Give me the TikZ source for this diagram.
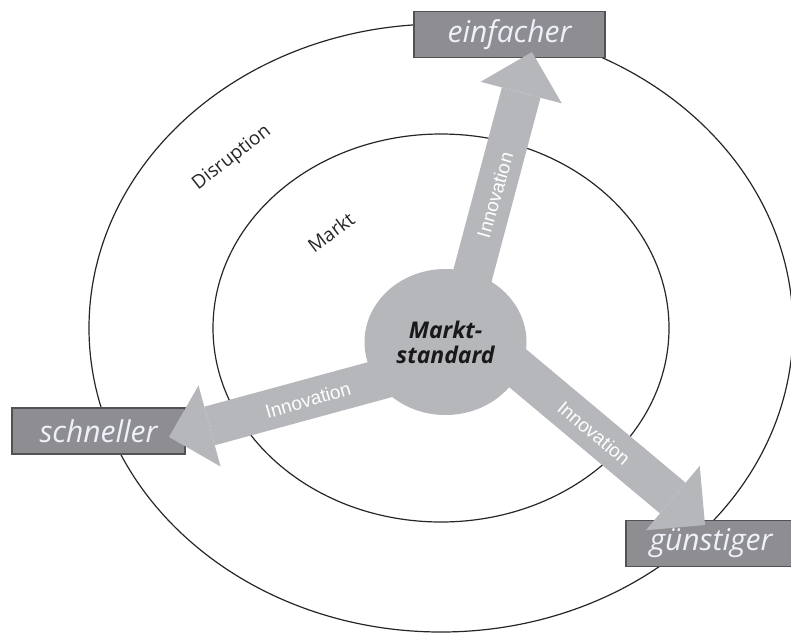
\documentclass[tikz,border=0pt]{standalone}
\usepackage{fontspec}
\setmainfont{Open Sans}
\newfontfamily\arialfont{Liberation Sans}
\usetikzlibrary{arrows.meta,shapes.geometric}
\definecolor{arrowgray}{RGB}{182,183,187}
\definecolor{boxgray}{RGB}{142,142,146}
\definecolor{boxedge}{RGB}{82,82,85}
\definecolor{labelwhite}{RGB}{238,241,250}
\tikzset{
  ringline/.style={draw=black!85,line width=0.6pt},
  goalbox/.style={
    draw=boxedge,fill=boxgray,line width=0.7pt,minimum height=23pt,
    inner sep=0pt,text=labelwhite,font=\itshape\fontsize{15}{17}\selectfont
  },
  corebox/.style={
    ellipse,fill=arrowgray,minimum width=81pt,minimum height=73pt,
    inner sep=0pt,align=center,text=black!90,
    font=\bfseries\itshape\fontsize{11.5}{12.5}\selectfont
  },
  innoarrow/.style={
    draw=arrowgray,line width=20pt,
    -{Triangle[length=21pt,width=42pt,line width=0pt]}
  },
  innolabel/.style={text=white,font=\arialfont\fontsize{9.5}{11}\selectfont},
  zonelabel/.style={text=black!85,font=\fontsize{9.5}{11}\selectfont}
}
\begin{document}
\begin{tikzpicture}[x=0.5pt,y=-0.5pt]
  \useasboundingbox (0,0) rectangle (791,632);
  % rings
  \coordinate (mid) at (441,328);
  \draw[ringline] (mid) ellipse [x radius=352,y radius=304];
  \draw[ringline] (mid) ellipse [x radius=228,y radius=194];
  \node[zonelabel,rotate=38] (disr) at (232,158) {Disruption};
  \node[zonelabel,rotate=37] (mkt) at (331,232) {Markt};
  % goals
  \node[goalbox,minimum width=95.5pt] (einf) at (509.5,34.5) {einfacher};
  \node[goalbox,minimum width=86.5pt] (schn) at (98.5,431) {schneller};
  \node[goalbox,minimum width=85pt] (guen) at (711,543.5) {günstiger};
  % innovation arrows
  \coordinate (upstart) at (458,330);
  \coordinate (uptip) at (532,52);
  \coordinate (leftstart) at (430,366);
  \coordinate (lefttip) at (169,437);
  \coordinate (downstart) at (472,330);
  \coordinate (downtip) at (705,525);
  \draw[innoarrow] (upstart) -- (uptip);
  \draw[innoarrow] (leftstart) -- (lefttip);
  \draw[innoarrow] (downstart) -- (downtip);
  \node[corebox] (std) at (445.5,342) {Markt-\\standard};
  \node[innolabel,rotate=74] (innoup) at (495,195) {Innovation};
  \node[innolabel,rotate=16] (innoleft) at (308,400) {Innovation};
  \node[innolabel,rotate=-40] (innodown) at (594,433) {Innovation};
\end{tikzpicture}
\end{document}
